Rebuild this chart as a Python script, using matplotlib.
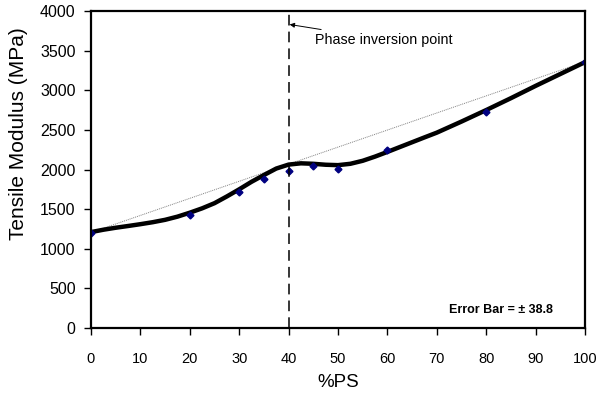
import matplotlib.pyplot as plt

plt.rcParams['font.family'] = ['Liberation Sans', 'DejaVu Sans']

# measured points (%PS, tensile modulus MPa)
ps = [0, 20, 30, 35, 40, 45, 50, 60, 80, 100]
modulus = [1205, 1425, 1715, 1880, 1980, 2050, 2005, 2250, 2725, 3360]

# trend curve
curve_x = [0, 2.5, 5, 7.5, 10, 12.5, 15, 17.5, 20, 22.5, 25, 27.5, 30, 32.5, 35, 37.5,
           40, 42.5, 45, 47.5, 50, 52.5, 55, 57.5, 60, 62.5, 65, 67.5, 70, 75, 80, 85, 90, 95, 100]
curve_y = [1210, 1240, 1265, 1287, 1310, 1335, 1365, 1405, 1455, 1510, 1575, 1660, 1750, 1845, 1930, 2012,
           2062, 2078, 2072, 2060, 2055, 2072, 2110, 2163, 2222, 2283, 2344, 2405, 2465, 2605, 2750, 2900, 3055, 3205, 3355]

# rule of mixtures line between the pure components
mix_x = [0, 100]
mix_y = [1205, 3360]

inversion = 40

fig = plt.figure(figsize=(6.01, 4.0), dpi=100)
ax = fig.add_axes([0.1514, 0.18, 0.822, 0.7925])

ax.plot(mix_x, mix_y, color='#808080', lw=0.7, ls=(0, (1, 1)))
ax.plot(curve_x, curve_y, color='black', lw=3.2, solid_joinstyle='round', solid_capstyle='round')
ax.plot(ps, modulus, ls='none', marker='D', ms=3.5, color='#000080')
ax.axvline(inversion, color='black', lw=1.1, ls=(0, (7, 4)))

ax.annotate('Phase inversion point', xy=(40.2, 3830), xytext=(45.3, 3640),
            fontsize=10.3, va='center', ha='left',
            arrowprops=dict(arrowstyle='-|>', color='black', lw=0.7,
                            mutation_scale=7, shrinkA=1, shrinkB=0))
ax.text(93.5, 227, 'Error Bar = ± 38.8', fontsize=9, fontweight='bold',
        ha='right', va='center')

ax.set_xlim(0, 100)
ax.set_ylim(0, 4000)
ax.set_xticks(range(0, 101, 10))
ax.set_yticks(range(0, 4001, 500))
ax.tick_params(direction='out', length=5, width=1)
ax.tick_params(axis='x', pad=12, labelsize=10.5)
ax.tick_params(axis='y', pad=6, labelsize=11.5)
for s in ax.spines.values():
    s.set_linewidth(1.6)

ax.set_xlabel('%PS', fontsize=13.5, labelpad=6)
ax.set_ylabel('Tensile Modulus (MPa)', fontsize=15)
ax.yaxis.set_label_coords(-0.128, 0.612)

fig.savefig('out.png', dpi=100)
